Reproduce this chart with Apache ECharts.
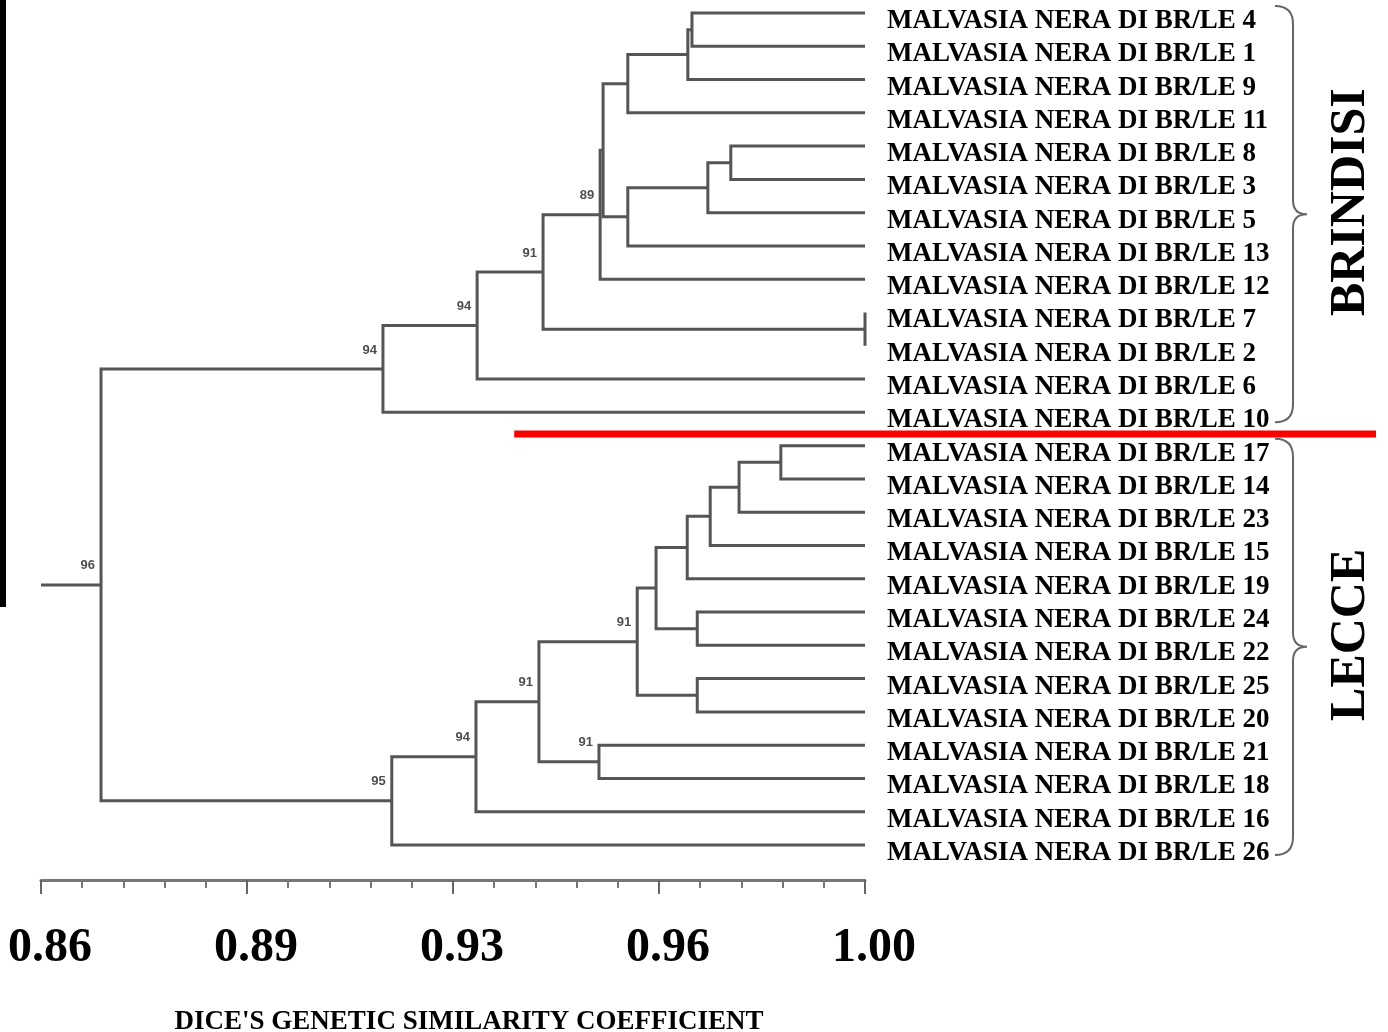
<!DOCTYPE html>
<html lang="en" style="height: 100%">
<head>
<meta charset="utf-8">
<title>Malvasia Nera di Brindisi/Lecce - UPGMA dendrogram</title>
</head>
<body style="height: 100%; margin: 0; background: #fff">
<div id="container" style="height: 100%"></div>

<script type="text/javascript" src="https://cdn.jsdelivr.net/npm/echarts/dist/echarts.min.js"></script>

<script type="text/javascript">

var dom = document.getElementById('container');
var myChart = echarts.init(dom, null, {width: 1388, height: 1032});

// accession numbers, in the order the leaves appear top to bottom
const leafIds = [4, 1, 9, 11, 8, 3, 5, 13, 12, 7, 2, 6, 10,
                 17, 14, 23, 15, 19, 24, 22, 25, 20, 21, 18, 16, 26];
const leafLabels = leafIds.map(function (id) { return 'MALVASIA NERA DI BR/LE ' + id; });

// merges: [child a, child b, similarity]. 0-25 are leaves, merge k becomes node 26 + k
const merges = [
    [0, 1, 0.9706],
    [26, 2, 0.9699],
    [27, 3, 0.9597],
    [4, 5, 0.9772],
    [29, 6, 0.9733],
    [30, 7, 0.9597],
    [28, 31, 0.9555],
    [32, 8, 0.9550],
    [9, 10, 1.0],
    [33, 34, 0.9453],
    [35, 11, 0.9341],
    [36, 12, 0.9181],
    [13, 14, 0.9857],
    [38, 15, 0.9786],
    [39, 16, 0.9737],
    [40, 17, 0.9698],
    [18, 19, 0.9715],
    [41, 42, 0.9645],
    [20, 21, 0.9715],
    [43, 44, 0.9613],
    [22, 23, 0.9548],
    [45, 46, 0.9446],
    [47, 24, 0.9339],
    [48, 25, 0.9196],
    [37, 49, 0.8702]
];

// bootstrap support: [node, value]
const bootstrap = [
    [33, 89], [35, 91], [36, 94], [37, 94],
    [45, 91], [46, 91], [47, 91], [48, 94], [49, 95], [50, 96]
];

// geographic groups: [name, first leaf, last leaf]
const groups = [['BRINDISI', 0, 12], ['LECCE', 13, 25]];

const tickLabels = ['0.86', '0.89', '0.93', '0.96', '1.00'];
const xMin = 0.86, xMax = 1.0, xStep = 0.035;

// red cut line between the two groups
const cutSimilarity = 0.9404;
const cutLevel = 12.65;

// node positions: leaves sit at similarity 1, internal nodes halfway between children
var nodeX = leafIds.map(function () { return 1.0; });
var nodeY = leafIds.map(function (d, i) { return i; });
var branches = [];
merges.forEach(function (m) {
    var a = m[0], b = m[1], s = m[2];
    branches.push({coords: [[nodeX[a], nodeY[a]], [s, nodeY[a]], [s, nodeY[b]], [nodeX[b], nodeY[b]]]});
    nodeX.push(s);
    nodeY.push((nodeY[a] + nodeY[b]) / 2);
});
var root = nodeX.length - 1;
branches.push({coords: [[xMin, nodeY[root]], [nodeX[root], nodeY[root]]]});

var supportData = bootstrap.map(function (b) { return [nodeX[b[0]], nodeY[b[0]], b[1]]; });

function renderBrace(params, api) {
    var g = groups[params.dataIndex];
    var pTop = api.coord([1.0, g[1]]);
    var pBot = api.coord([1.0, g[2]]);
    var right = pTop[0];
    var top = pTop[1] - 7, bottom = pBot[1] + 10, mid = (top + bottom) / 2;
    var x0 = right + 410, x1 = right + 428, x2 = right + 442;
    var path = ['M', x0, top, 'Q', x1, top, x1, top + 18,
        'L', x1, mid - 14, 'Q', x1, mid, x2, mid,
        'Q', x1, mid, x1, mid + 14,
        'L', x1, bottom - 18, 'Q', x1, bottom, x0, bottom].join(' ');
    return {
        type: 'group',
        children: [
            {type: 'path', shape: {pathData: path}, style: {fill: 'none', stroke: '#666', lineWidth: 2}},
            {
                type: 'text', x: right + 486, y: mid - 12, rotation: Math.PI / 2,
                style: {
                    text: g[0], fontSize: 50, fontWeight: 'bold', fontFamily: 'Liberation Serif',
                    fill: '#000', align: 'center', verticalAlign: 'middle'
                }
            }
        ]
    };
}

function renderCut(params, api) {
    var p = api.coord([api.value(0), api.value(1)]);
    return {
        type: 'line',
        shape: {x1: p[0], y1: p[1], x2: api.getWidth() - 12, y2: p[1]},
        style: {stroke: '#ff0000', lineWidth: 7}
    };
}

var option = {
    backgroundColor: '#fff',
    animation: false,
    grid: {left: 41, right: 523, top: 13, bottom: 187, containLabel: false, outerBoundsMode: 'none'},
    xAxis: {
        type: 'value',
        min: xMin,
        max: xMax,
        interval: xStep,
        offset: 35,
        name: "DICE'S GENETIC SIMILARITY COEFFICIENT",
        nameLocation: 'middle',
        nameGap: 129,
        nameTextStyle: {
            fontFamily: 'Liberation Serif', fontWeight: 'bold', fontSize: 27,
            color: '#000', padding: [0, 0, 0, 32]
        },
        axisLine: {onZero: false, lineStyle: {color: '#777', width: 3}},
        axisTick: {length: 14, lineStyle: {color: '#666', width: 2}},
        minorTick: {show: true, splitNumber: 5, length: 8, lineStyle: {color: '#777', width: 2}},
        splitLine: {show: false},
        axisLabel: {
            margin: 45,
            fontFamily: 'Liberation Serif', fontWeight: 'bold', fontSize: 48, color: '#000',
            padding: [0, 0, 0, 18],
            formatter: function (v) { return tickLabels[Math.round((v - xMin) / xStep)]; }
        }
    },
    yAxis: {
        type: 'value',
        min: 0,
        max: leafIds.length - 1,
        interval: 1,
        inverse: true,
        position: 'right',
        axisLine: {show: false, onZero: false},
        axisTick: {show: false},
        splitLine: {show: false},
        axisLabel: {
            margin: 22,
            fontFamily: 'Liberation Serif', fontWeight: 'bold', fontSize: 27, color: '#000',
            verticalAlign: 'top',
            lineHeight: 16,
            formatter: function (v) { return leafLabels[Math.round(v)]; }
        }
    },
    series: [
        {
            type: 'lines',
            coordinateSystem: 'cartesian2d',
            polyline: true,
            clip: false,
            silent: true,
            lineStyle: {color: '#555', width: 3, opacity: 1},
            data: branches
        },
        {
            type: 'scatter',
            symbolSize: 0,
            clip: false,
            silent: true,
            label: {
                show: true, position: 'left', distance: 6, offset: [0, -19],
                fontFamily: 'Liberation Sans', fontWeight: 'bold', fontSize: 13, color: '#222',
                formatter: function (p) { return p.value[2]; }
            },
            data: supportData
        },
        {
            type: 'custom',
            silent: true,
            renderItem: renderBrace,
            data: groups.map(function (g, i) { return [i, g[1], g[2]]; })
        },
        {
            type: 'custom',
            silent: true,
            renderItem: renderCut,
            data: [[cutSimilarity, cutLevel]]
        }
    ],
    graphic: [
        {type: 'rect', left: 0, top: 0, shape: {width: 6, height: 607}, style: {fill: '#000'}}
    ]
};

if (option && typeof option === 'object') {
    myChart.setOption(option);
}

window.addEventListener('resize', myChart.resize);
</script>
</body>
</html>
